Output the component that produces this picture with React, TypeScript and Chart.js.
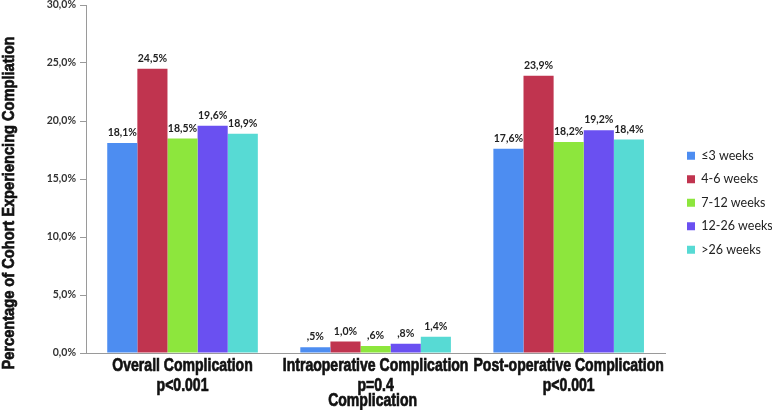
import React, { useEffect, useRef } from "react";
import { Chart, registerables } from "chart.js";

Chart.register(...registerables);

const categories: string[][] = [
  ["Overall Complication", "p<0.001"],
  ["Intraoperative Complication", "p=0.4"],
  ["Post-operative Complication", "p<0.001"],
];
const seriesNames = ["≤3 weeks", "4-6 weeks", "7-12 weeks", "12-26 weeks", ">26 weeks"];
const weeks3 = [18.1, 0.5, 17.6];
const weeks4to6 = [24.5, 1.0, 23.9];
const weeks7to12 = [18.5, 0.6, 18.2];
const weeks12to26 = [19.6, 0.8, 19.2];
const weeks26plus = [18.9, 1.4, 18.4];
const seriesValues = [weeks3, weeks4to6, weeks7to12, weeks12to26, weeks26plus];
const seriesColors = ["#4D8DF1", "#C0344F", "#8DE63D", "#6A50F1", "#57DAD4"];
const yTitle = "Percentage of Cohort Experiencing Compliation";
const xTitle = "Complication";

const BOLD_SANS = "'Liberation Sans', Arial, sans-serif";
const NARROW_X = 0.78;
const LABEL_FONT = "Lato, 'Open Sans', sans-serif";

function fmtPct(v: number): string {
  let s = v.toFixed(1).replace(".", ",");
  if (s.startsWith("0,")) s = s.slice(1);
  return s + "%";
}

function narrowText(ctx: any, text: string, x: number, y: number, sx: number) {
  ctx.save();
  ctx.translate(x, y);
  ctx.scale(sx, 1);
  ctx.lineWidth = 0.7;
  ctx.strokeStyle = ctx.fillStyle;
  ctx.strokeText(text, 0, 0);
  ctx.fillText(text, 0, 0);
  ctx.restore();
}

const dataLabelPlugin = {
  id: "dataLabels",
  afterDatasetsDraw(chart: any) {
    const ctx = chart.ctx;
    ctx.save();
    ctx.font = `bold 10.5px ${LABEL_FONT}`;
    ctx.fillStyle = "#222";
    ctx.textAlign = "center";
    ctx.textBaseline = "bottom";
    chart.data.datasets.forEach((ds: any, i: number) => {
      const meta = chart.getDatasetMeta(i);
      meta.data.forEach((bar: any, j: number) => {
        ctx.fillText(fmtPct(ds.data[j]), bar.x, bar.y - 5);
      });
    });
    ctx.restore();
  },
};

const axisTextPlugin = {
  id: "axisText",
  afterDraw(chart: any) {
    const ctx = chart.ctx;
    const xs = chart.scales.x;
    ctx.save();
    ctx.fillStyle = "#111";
    ctx.textAlign = "center";
    ctx.textBaseline = "middle";
    ctx.font = `bold 18px ${BOLD_SANS}`;
    categories.forEach((lines, i) => {
      const x = xs.getPixelForTick(i);
      lines.forEach((line, k) => {
        narrowText(ctx, line, x, xs.top + 13 + k * 20, NARROW_X);
      });
    });
    const cx = (chart.chartArea.left + chart.chartArea.right) / 2 - 3;
    narrowText(ctx, xTitle, cx, xs.top + 48, NARROW_X);
    // y title
    ctx.save();
    ctx.translate(9, 203);
    ctx.rotate(-Math.PI / 2);
    ctx.font = `bold 17px ${BOLD_SANS}`;
    narrowText(ctx, yTitle, 0, 0, 0.86);
    ctx.restore();
    ctx.restore();
  },
};

const legendShiftPlugin = {
  id: "legendShift",
  afterLayout(chart: any) {
    const lg = chart.legend;
    if (!lg) return;
    const dx = 676 - lg.left;
    lg.left += dx;
    lg.right += dx;
    const h = lg.bottom - lg.top;
    lg.top = 138.5;
    lg.bottom = lg.top + h;
  },
};

export default function App() {
  const ref = useRef<HTMLCanvasElement | null>(null);
  useEffect(() => {
    if (!ref.current) return;
    const chart = new Chart(ref.current, {
      type: "bar",
      data: {
        labels: categories.map((c) => c.join(" ")),
        datasets: seriesNames.map((name, i) => ({
          label: name,
          data: seriesValues[i],
          backgroundColor: seriesColors[i],
          borderWidth: 0,
          categoryPercentage: 0.78,
          barPercentage: 1,
        })),
      },
      options: {
        animation: false,
        responsive: false,
        layout: { padding: { left: 0, right: 0, top: 5, bottom: 0 } },
        plugins: {
          legend: {
            position: "right",
            align: "start",
            labels: {
              boxWidth: 8,
              boxHeight: 8,
              padding: 11,
              color: "#222",
              font: { family: LABEL_FONT, size: 12.5 },
            },
          },
          tooltip: { enabled: false },
        },
        scales: {
          x: {
            afterFit(scale: any) {
              scale.height = 57;
              scale.paddingLeft = 0;
              scale.paddingRight = 0;
            },
            grid: { display: false, drawTicks: false },
            border: { display: true, color: "#9a9a9a", width: 1 },
            ticks: { display: false },
          },
          y: {
            min: 0,
            max: 30,
            afterFit(scale: any) {
              scale.width = 86;
              scale.paddingTop = 0;
              scale.paddingBottom = 0;
            },
            grid: { drawOnChartArea: false, drawTicks: true, tickLength: 6, color: "#9a9a9a" },
            border: { display: true, color: "#9a9a9a", width: 1 },
            ticks: {
              stepSize: 5,
              color: "#333",
              padding: 4,
              font: { family: LABEL_FONT, size: 10.5, weight: "bold" },
              callback: (v: any) => Number(v).toFixed(1).replace(".", ",") + "%",
            },
          },
        },
      },
      plugins: [dataLabelPlugin, axisTextPlugin, legendShiftPlugin],
    });
    return () => chart.destroy();
  }, []);
  return (
    <div style={{ position: "fixed", left: 0, top: 0, width: 772, height: 410, background: "#fff" }}>
      <canvas ref={ref} width={772} height={410} style={{ display: "block" }} />
    </div>
  );
}
